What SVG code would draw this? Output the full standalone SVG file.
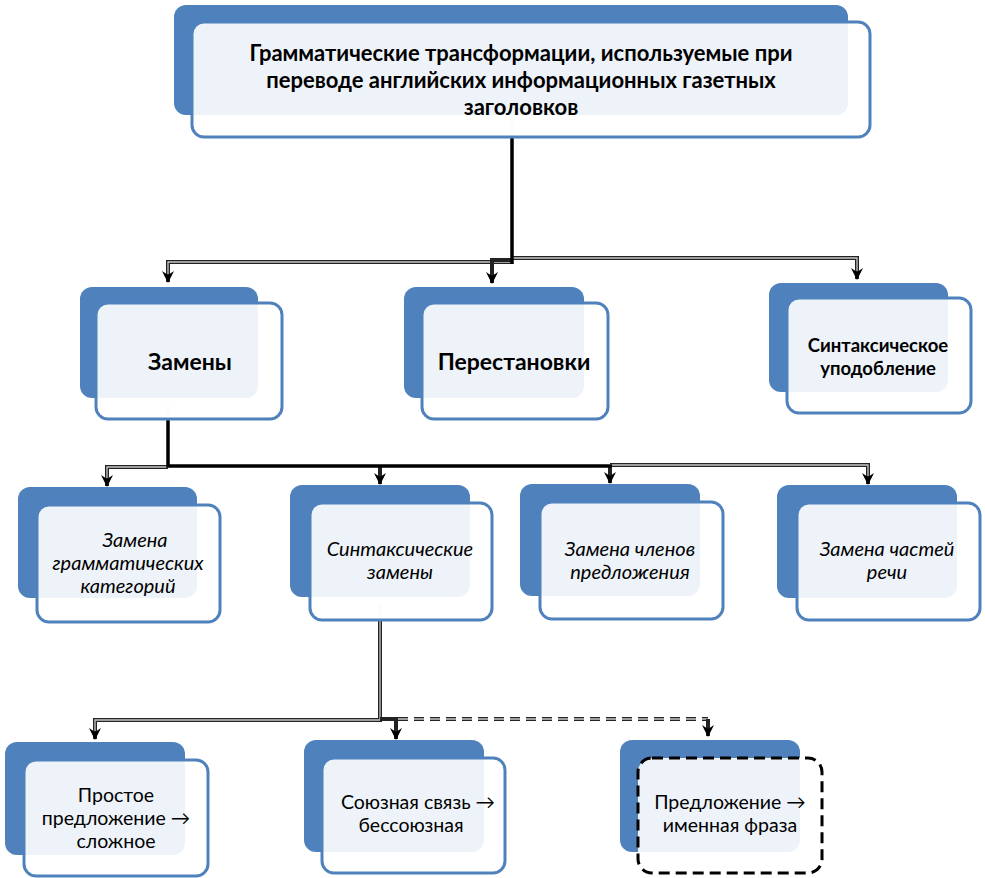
<svg xmlns="http://www.w3.org/2000/svg" width="985" height="878" viewBox="0 0 985 878">
<style>
.back{fill:#4F81BD}
.front{fill:#fff;fill-opacity:0.9;stroke:#4F81BD;stroke-width:3}
.dashf{fill:#fff;fill-opacity:0.9;stroke:#000;stroke-width:3;stroke-dasharray:11 6}
.t{font-family:Lato,"Liberation Sans",sans-serif;fill:#000;text-anchor:middle}
.b{font-weight:bold}
.i{font-style:italic}
.trunk{fill:none;stroke:#000;stroke-width:3.5}
.outer{fill:none;stroke:#222;stroke-width:4}
.inner{fill:none;stroke:#c8c8c8;stroke-width:1.3}
.ghost{fill:none;stroke:#ddd;stroke-width:3}
.dash{stroke-dasharray:10 6}
</style>
<defs>
<marker id="ah" markerUnits="userSpaceOnUse" markerWidth="12" markerHeight="12" viewBox="0 0 12 12" refX="11" refY="6" orient="auto">
<path d="M0,0 L12,6 L0,12 L4,6 z" fill="#000"/>
</marker>
</defs>
<rect width="985" height="878" fill="#fff"/>

<g id="connectors">
<line class="ghost" x1="512" y1="117" x2="512" y2="137"/>
<line class="ghost" x1="168" y1="404" x2="168" y2="420"/>
<line class="ghost" x1="380" y1="604" x2="380" y2="620"/>
<path class="outer" d="M512,262 H168 V282" marker-end="url(#ah)"/>
<path class="inner" d="M512,262 H168 V274"/>
<path class="outer" d="M512,260 H492 V283" marker-end="url(#ah)"/>
<path class="outer" d="M512,258 H857 V279" marker-end="url(#ah)"/>
<path class="inner" d="M512,258 H857 V271"/>
<path class="trunk" d="M512,138 V264"/>
<path class="outer" d="M168,467 H107 V486" marker-end="url(#ah)"/>
<path class="inner" d="M168,467 H107 V478"/>
<path class="outer" d="M380,465 V484" marker-end="url(#ah)"/>
<path class="outer" d="M610,465 V483" marker-end="url(#ah)"/>
<path class="outer" d="M610,465 H868 V484" marker-end="url(#ah)"/>
<path class="inner" d="M610,465 H868 V476"/>
<path class="trunk" d="M168,420 V466 H612"/>
<path class="outer" d="M380,620 V720 H95 V739" marker-end="url(#ah)"/>
<path class="inner" d="M380,620 V720 H95 V731"/>
<path class="outer" d="M380,719 H396 V739" marker-end="url(#ah)"/>
<path class="outer dash" d="M398,719 H708"/>
<path class="inner dash" d="M398,719 H708"/>
<path class="outer" d="M708,719 V736" marker-end="url(#ah)"/>
</g>

<g id="n-root">
<rect class="back" x="174" y="5" width="674" height="110" rx="12"/>
<rect class="front" x="192" y="22" width="678" height="115" rx="12"/>
<text class="t b" font-size="22" x="521" y="61">Грамматические трансформации, используемые при</text>
<text class="t b" font-size="22" x="521" y="88">переводе английских информационных газетных</text>
<text class="t b" font-size="22" x="521" y="115">заголовков</text>
</g>

<g id="n-zameny">
<rect class="back" x="80" y="287" width="178" height="111" rx="12"/>
<rect class="front" x="96" y="303" width="186" height="116" rx="12"/>
<text class="t b" font-size="23" x="190" y="370">Замены</text>
</g>

<g id="n-perest">
<rect class="back" x="404" y="287" width="180" height="111" rx="12"/>
<rect class="front" x="422" y="303" width="186" height="116" rx="12"/>
<text class="t b" font-size="23" x="514" y="370">Перестановки</text>
</g>

<g id="n-sint-upod">
<rect class="back" x="769" y="283" width="179" height="109" rx="12"/>
<rect class="front" x="787" y="298" width="184" height="115" rx="12"/>
<text class="t b" font-size="18.5" x="878" y="352">Синтаксическое</text>
<text class="t b" font-size="18.5" x="878" y="375">уподобление</text>
</g>

<g id="n-gram-kat">
<rect class="back" x="18" y="487" width="179" height="111" rx="12"/>
<rect class="front" x="37" y="505" width="183" height="117" rx="12"/>
<text class="t i" font-size="20" x="135" y="547">Замена</text>
<text class="t i" font-size="20" x="128" y="570">грамматических</text>
<text class="t i" font-size="20" x="128" y="593">категорий</text>
</g>

<g id="n-sint-zam">
<rect class="back" x="290" y="485" width="180" height="112" rx="12"/>
<rect class="front" x="310" y="503" width="182" height="117" rx="12"/>
<text class="t i" font-size="20" x="400" y="556">Синтаксические</text>
<text class="t i" font-size="20" x="400" y="579">замены</text>
</g>

<g id="n-chleny">
<rect class="back" x="520" y="484" width="180" height="112" rx="12"/>
<rect class="front" x="540" y="502" width="183" height="117" rx="12"/>
<text class="t i" font-size="20" x="630" y="556">Замена членов</text>
<text class="t i" font-size="20" x="630" y="579">предложения</text>
</g>

<g id="n-chasti">
<rect class="back" x="777" y="485" width="180" height="113" rx="12"/>
<rect class="front" x="797" y="503" width="183" height="117" rx="12"/>
<text class="t i" font-size="20" x="887" y="556">Замена частей</text>
<text class="t i" font-size="20" x="887" y="579">речи</text>
</g>

<g id="n-prostoe">
<rect class="back" x="5" y="742" width="180" height="113" rx="12"/>
<rect class="front" x="24" y="760" width="184" height="116" rx="12"/>
<text class="t" font-size="19.5" x="116" y="802">Простое</text>
<text class="t" font-size="19.5" x="116" y="825">предложение →</text>
<text class="t" font-size="19.5" x="116" y="848">сложное</text>
</g>

<g id="n-soyuz">
<rect class="back" x="304" y="740" width="180" height="112" rx="12"/>
<rect class="front" x="322" y="758" width="183" height="115" rx="12"/>
<text class="t" font-size="19.5" x="418" y="809">Союзная связь →</text>
<text class="t" font-size="19.5" x="411" y="832">бессоюзная</text>
</g>

<g id="n-imennaya">
<rect class="back" x="620" y="740" width="180" height="112" rx="12"/>
<rect class="dashf" x="638" y="758" width="184" height="115" rx="14"/>
<text class="t" font-size="19.5" x="730" y="809">Предложение →</text>
<text class="t" font-size="19.5" x="730" y="832">именная фраза</text>
</g>
</svg>
